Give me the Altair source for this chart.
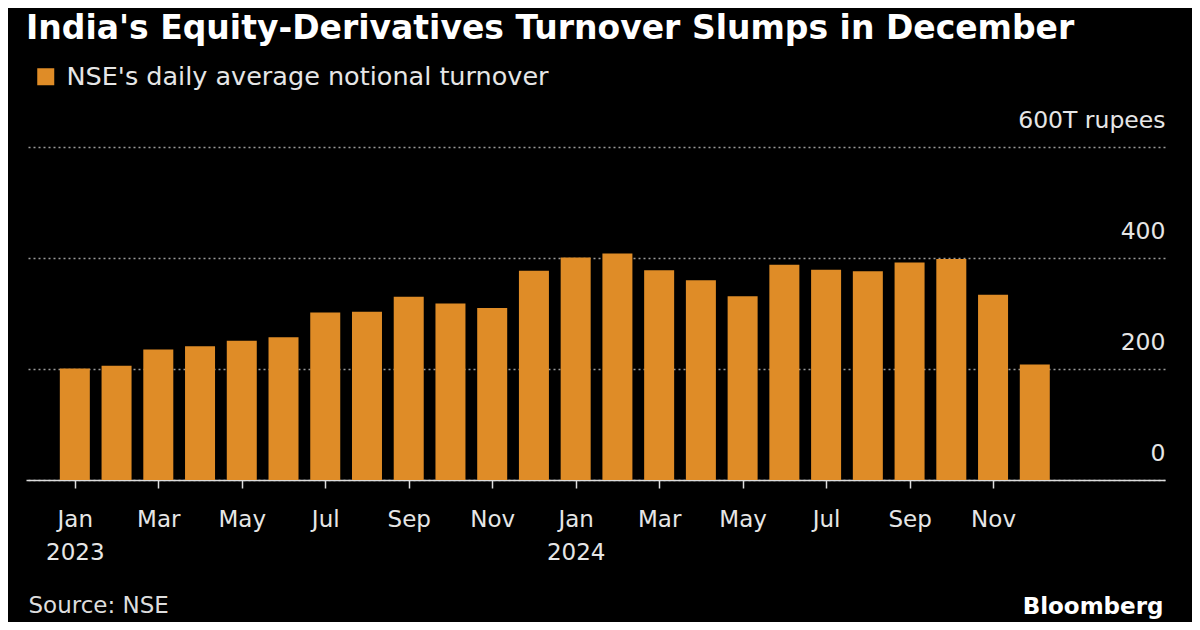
import altair as alt
import pandas as pd

months = ["Jan", "Feb", "Mar", "Apr", "May", "Jun", "Jul", "Aug", "Sep", "Oct", "Nov", "Dec"]
years = ["2023"] * 12 + ["2024"] * 12
turnover = [201, 206, 235, 241, 251, 257, 302, 303, 330, 318, 310, 377,
            401, 408, 378, 360, 331, 388, 379, 376, 392, 398, 334, 208]
series_name = "NSE's daily average notional turnover"
y_ticks = [0, 200, 400, 600]

month_labels = months * 2
df = pd.DataFrame({
    "idx": list(range(len(turnover))),
    "month": month_labels,
    "year": years,
    "turnover": turnover,
    "series": [series_name] * len(turnover),
})

# x-axis label expression built from the month/year lists
parts = []
for i, (m, y) in enumerate(zip(month_labels, years)):
    if m == "Jan":
        parts.append(f"['{m}','{y}']")
    else:
        parts.append(f"'{m}'")
label_expr = "[" + ",".join(parts) + "][datum.value]"
x_tick_vals = list(range(0, len(turnover), 2))

W, H = 1139, 333
FONT = "DejaVu Sans"
ORANGE = "#DF8C27"

chart = alt.Chart(df).mark_bar(size=30).encode(
    x=alt.X(
        "idx:Q",
        scale=alt.Scale(domain=[-1.05, 26.0], nice=False, zero=False),
        axis=alt.Axis(
            values=x_tick_vals,
            labelExpr=label_expr,
            grid=False,
            tickSize=8,
            tickColor="#dddddd",
            tickWidth=1.5,
            domainColor="#dddddd",
            domainWidth=1.5,
            labelFontSize=23,
            labelFont=FONT,
            labelColor="#e6e6e6",
            labelPadding=20,
            labelLineHeight=33,
            labelFlush=False,
            labelOverlap=False,
            title="Source: NSE",
            titleFont=FONT,
            titleFontSize=23,
            titleFontWeight="normal",
            titleColor="#dddddd",
            titleX=2,
            titleY=132,
            titleAlign="left",
            titleAnchor="start",
            titleBaseline="alphabetic",
        ),
    ),
    y=alt.Y(
        "turnover:Q",
        scale=alt.Scale(domain=[0, 600], nice=False),
        axis=alt.Axis(
            orient="right",
            values=y_ticks,
            labelExpr="datum.value == 600 ? '600T rupees' : datum.label",
            grid=True,
            gridColor="#9a9a9a",
            gridDash=[2, 3],
            gridWidth=1.5,
            domain=False,
            ticks=False,
            tickSize=0,
            labelAlign="right",
            labelBaseline="alphabetic",
            labelPadding=0,
            labelOffset=-20,
            labelFontSize=23.5,
            labelFont=FONT,
            labelColor="#e6e6e6",
            title="Bloomberg",
            titleFont=FONT,
            titleFontSize=23,
            titleFontWeight="bold",
            titleColor="#ffffff",
            titleAngle=0,
            titleX=-2,
            titleY=H + 133,
            titleAlign="right",
            titleBaseline="alphabetic",
        ),
    ),
    color=alt.Color(
        "series:N",
        scale=alt.Scale(range=[ORANGE]),
        legend=alt.Legend(
            orient="none",
            legendX=7,
            legendY=-83,
            title=None,
            symbolType="square",
            symbolSize=289,
            symbolStrokeWidth=0,
            symbolOpacity=1,
            labelFont=FONT,
            labelFontSize=25.5,
            labelColor="#e6e6e6",
            labelOffset=8,
            labelLimit=0,
            padding=0,
        ),
    ),
).properties(
    width=W,
    height=H,
    title=alt.TitleParams(
        "India's Equity-Derivatives Turnover Slumps in December",
        anchor="start",
        frame="group",
        font=FONT,
        fontSize=33,
        fontWeight="bold",
        color="#ffffff",
        offset=8,
        dy=-10,
    ),
    padding={"left": 18, "top": 139, "right": 27, "bottom": 142},
    autosize=alt.AutoSizeParams(type="none"),
    background="#000000",
).configure_view(stroke=None)

chart.save("out.html", embed_options={"renderer": "svg", "actions": False})
